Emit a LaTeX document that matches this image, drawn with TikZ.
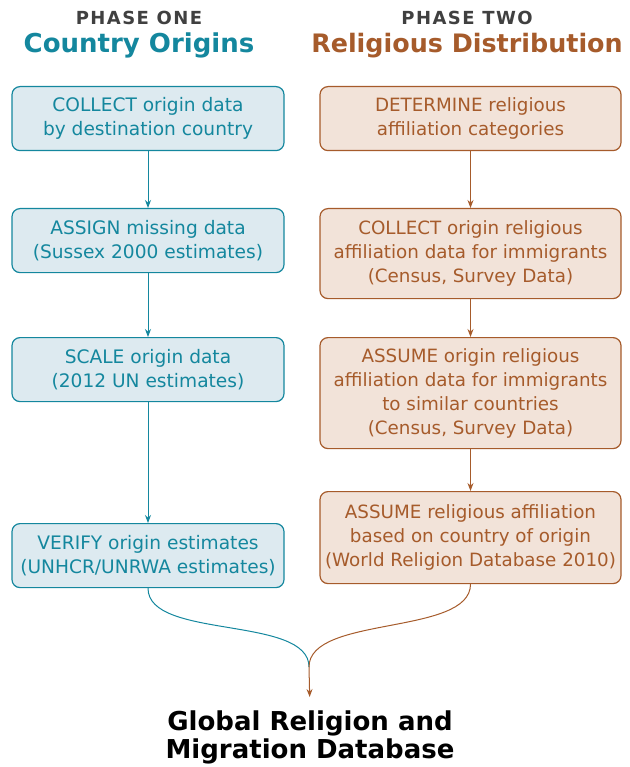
\documentclass[tikz,border=0pt]{standalone}
\usepackage{fontspec}
\setmainfont{DejaVu Sans}
\newfontfamily\spacedfont[LetterSpace=8]{DejaVu Sans}
\usetikzlibrary{arrows.meta, positioning}

\definecolor{origteal}{HTML}{14879E}
\definecolor{origfill}{HTML}{DDEAF0}
\definecolor{relbrown}{HTML}{A65B2B}
\definecolor{relfill}{HTML}{F2E3D9}
\definecolor{phasegray}{HTML}{404040}

\begin{document}
\begin{tikzpicture}[
        x=1pt, y=-1pt,
        caja/.style={
            rectangle,
            rounded corners=8pt,
            line width=1.2pt,
            align=center,
            anchor=north,
            inner xsep=3pt,
            inner ysep=3pt,
            font=\fontsize{18.6}{24}\selectfont
        },
        cajaorig/.style={caja, draw=origteal, fill=origfill, text=origteal, minimum width=272pt},
        cajarel/.style={caja, draw=relbrown, fill=relfill, text=relbrown, minimum width=301pt, font=\fontsize{18.3}{24}\selectfont},
        fase/.style={anchor=base, inner sep=0pt, text=phasegray, font=\spacedfont\bfseries\fontsize{18}{20}\selectfont},
        titulo/.style={anchor=base, inner sep=0pt, font=\bfseries\fontsize{26}{28}\selectfont},
        flechaorig/.style={-{Stealth[length=8pt, width=6pt]}, line width=1pt, draw=origteal},
        flecharel/.style={-{Stealth[length=8pt, width=6pt]}, line width=1pt, draw=relbrown}
    ]
        \useasboundingbox (0,0) rectangle (629,767);

        % headers
        \node[fase] (faseuno) at (139,25) {PHASE ONE};
        \node[titulo, text=origteal] (origenes) at (139,53) {Country Origins};
        \node[fase] (fasedos) at (467,25) {PHASE TWO};
        \node[titulo, text=relbrown, font=\bfseries\fontsize{25.4}{28}\selectfont] (religion) at (467,53) {Religious Distribution};

        % phase one
        \node[cajaorig, minimum height=64pt] (collect) at (148,86)
            {COLLECT origin data\\by destination country};
        \node[cajaorig, minimum height=64pt] (assign) at (148,208)
            {ASSIGN missing data\\(Sussex 2000 estimates)};
        \node[cajaorig, minimum height=64pt] (scale) at (148,337)
            {SCALE origin data\\(2012 UN estimates)};
        \node[cajaorig, minimum height=64pt] (verify) at (148,523)
            {VERIFY origin estimates\\(UNHCR/UNRWA estimates)};

        % phase two
        \node[cajarel, minimum height=64pt] (determine) at (470.5,86)
            {DETERMINE religious\\affiliation categories};
        \node[cajarel, minimum height=90pt] (collectrel) at (470.5,208)
            {COLLECT origin religious\\affiliation data for immigrants\\(Census, Survey Data)};
        \node[cajarel, minimum height=111pt] (assumesim) at (470.5,337)
            {ASSUME origin religious\\affiliation data for immigrants\\to similar countries\\(Census, Survey Data)};
        \node[cajarel, minimum height=92pt] (assumeorig) at (470.5,491)
            {ASSUME religious affiliation\\based on country of origin\\(World Religion Database 2010)};

        \node[anchor=north, inner sep=0pt, align=center, font=\bfseries\fontsize{26}{28}\selectfont] (database) at (310,711)
            {Global Religion and\\Migration Database};

        \coordinate (merge) at (309,667);

        \draw[flechaorig] (collect.south) -- (assign.north);
        \draw[flechaorig] (assign.south) -- (scale.north);
        \draw[flechaorig] (scale.south) -- (verify.north);

        \draw[flecharel] (determine.south) -- (collectrel.north);
        \draw[flecharel] (collectrel.south) -- (assumesim.north);
        \draw[flecharel] (assumesim.south) -- (assumeorig.north);

        \draw[line width=1pt, draw=origteal] (verify.south) .. controls (148,640) and (309,615) .. (merge);
        \draw[line width=1pt, draw=relbrown] (assumeorig.south) .. controls (470.5,636) and (309,615) .. (merge);
        \draw[flecharel, shorten >=14pt] (merge) -- (database.north);
    \end{tikzpicture}
\end{document}
